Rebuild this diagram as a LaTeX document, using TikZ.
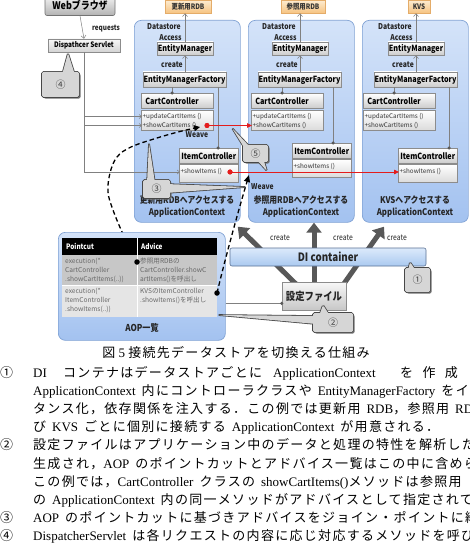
\documentclass[tikz,border=0pt]{standalone}
\usepackage{fontspec}
\setmainfont{Liberation Serif}
\newfontfamily\jpf{Noto Sans CJK JP}
\newfontfamily\jpb[LetterSpace=10]{Noto Sans CJK JP}
\newfontfamily\jpc[FakeStretch=0.85]{Noto Sans CJK JP}
\usetikzlibrary{arrows.meta}
\newcommand\myfs[1]{\fontsize{#1}{#1}\selectfont}
\newcommand\J[1]{{\jpb\fontsize{13}{14}\selectfont #1}}
\newcommand\bodyfont{\fontsize{13}{14}\selectfont\spaceskip 6pt plus 2pt\relax}
\newcommand\callout[3]{%
  \path[fill=black!55,rounded corners=2pt,shift={(1.6,1.6)}] #1;
  \path[calline] #2; \path[calline] #3; \path[calline] #1;
  \path[calfill] #2; \path[calfill] #3; \path[calfill] #1;}
\definecolor{pblueT}{RGB}{212,227,249}
\definecolor{pblueB}{RGB}{163,194,240}
\definecolor{pborder}{RGB}{128,162,212}
\definecolor{dsT}{RGB}{253,236,210}
\definecolor{dsB}{RGB}{246,196,130}
\definecolor{dsborder}{RGB}{228,172,105}
\definecolor{redl}{RGB}{228,28,28}
\definecolor{darkarr}{RGB}{88,88,88}
\definecolor{diT}{RGB}{220,234,251}
\definecolor{diB}{RGB}{170,201,240}
\tikzset{
 panel/.style={draw=pborder, line width=0.7pt, rounded corners=7pt, top color=pblueT, bottom color=pblueB, inner sep=0},
 uml/.style={draw=black!45, line width=0.5pt, top color=white, bottom color=black!20, inner sep=0, font=\jpc\bfseries\myfs{8.5}},
 umlm/.style={draw=black!45, line width=0.5pt, top color=white, bottom color=black!14, inner sep=0},
 meth/.style={anchor=west, inner sep=0.5pt, font=\jpf\myfs{6.3}, text=black!80},
 store/.style={draw=dsborder, line width=0.5pt, top color=dsT, bottom color=dsB, inner sep=0, font=\jpc\bfseries\myfs{7.5}, text=black!80},
 lbl/.style={inner sep=0, font=\jpc\bfseries\myfs{8}, text=black!85},
 gline/.style={draw=black!50, line width=0.5pt},
 garrow/.style={gline, -{Straight Barb[length=3pt,width=5pt]}},
 sarrow/.style={gline, -{Straight Barb[length=2.5pt,width=4pt]}},
 reddot/.style={circle, fill=redl, inner sep=0, minimum size=5pt},
 redarr/.style={draw=redl, line width=0.8pt, -{Triangle[length=5pt,width=4.5pt]}},
 gdot/.style={circle, fill=black!65, inner sep=0, minimum size=3.5pt},
 bdot/.style={circle, fill=black, inner sep=0, minimum size=5.5pt},
 bigarr/.style={draw=darkarr, line width=5pt, -{Triangle[length=10pt,width=15pt]}},
 dashcurve/.style={draw=black, line width=1.3pt, dash pattern=on 4.5pt off 3pt},
 calline/.style={draw=black!72, line width=1.6pt, fill=black!16, rounded corners=1.5pt},
 calfill/.style={fill=black!16, rounded corners=1.5pt},
 calnum/.style={inner sep=0, font=\jpf\myfs{10}, text=black!75},
 tabtxt/.style={anchor=north west, inner sep=0, align=left, font=\jpf\fontsize{6.6}{9}\selectfont, text=black!60},
 body/.style={anchor=base west, inner sep=0, font=\bodyfont},
}
\begin{document}
\begin{tikzpicture}[x=1pt,y=-1pt]
\useasboundingbox (0,0) rectangle (470,545);
\clip (0,0) rectangle (470,545);
\fill[white] (0,0) rectangle (470,545);

% ---------- Web browser and dispatcher
\node[draw=black!55, line width=0.6pt, rounded corners=2pt, top color=black!4, bottom color=black!30, minimum width=70pt, minimum height=20pt, inner sep=0, font=\jpc\bfseries\myfs{10.5}] (web) at (80,5.5) {Webブラウザ};
\node[lbl, font=\jpc\bfseries\myfs{7.5}] (req) at (106,29) {requests};
\node[draw=black!45, line width=0.5pt, top color=black!3, bottom color=black!17, minimum width=72pt, minimum height=13pt, inner sep=0, font=\jpc\bfseries\myfs{7.5}] (disp) at (84,45.5) {Dispathcer Servlet};
\draw[garrow] (web.south) -- (disp.north);

% ---------- three application contexts
\foreach \i/\dx/\ex/\ccx/\icx/\icy/\st/\sw/\bt in {
 1/0/0/141/179/148/更新用RDB/46/更新用RDBへアクセスする,
 2/114/115/251/292/143/参照用RDB/44/参照用RDBへアクセスする,
 3/228/231/363/398/148/KVS/22/KVSへアクセスする}{
 \node[panel, anchor=north west, minimum width=106pt, minimum height=202pt] (pan\i) at (134+\dx,20) {};
 \node[store, minimum width=\sw pt, minimum height=13pt] (st\i) at (188+\ex,6.5) {\st};
 \node[lbl] (dat\i) at (164+\ex,27) {Datastore};
 \node[lbl] (acc\i) at (170.5+\ex,37.5) {Access};
 \node[uml, minimum width=56pt, minimum height=13pt] (em\i) at (185+\ex,48.5) {EntityManager};
 \node[lbl] (cr\i) at (172+\ex,65) {create};
 \node[uml, minimum width=83pt, minimum height=15pt] (emf\i) at (184.5+\ex,79.5) {EntityManagerFactory};
 \draw[garrow] (em\i.south |- emf\i.north) -- (em\i.south);
 \draw[garrow] (em\i.north) -- (em\i.north |- st\i.south);
 \node[uml, anchor=north west, text width=64pt, inner xsep=4pt, minimum height=15pt, align=left] (cc\i) at (\ccx,93) {CartController};
 \node[umlm, anchor=north west, minimum width=72pt, minimum height=20pt] (ccm\i) at (\ccx,110) {};
 \node[meth] (ccu\i) at (\ccx+1,116.5) {+updateCartItems ()};
 \node[meth] (ccs\i) at (\ccx+1,125.5) {+showCartItems ()};
 \path (cc\i.north west) ++(31,0) coordinate (ccj\i);
 \draw[gline] (ccj\i |- emf\i.south) -- (ccj\i);
 \node[gdot] at (ccj\i) {};
 \node[uml, anchor=north west, minimum width=59pt, minimum height=15pt] (ic\i) at (\icx,\icy) {ItemController};
 \node[umlm, anchor=north west, minimum width=59pt, minimum height=18pt] (icm\i) at (\icx,\icy+16) {};
 \node[meth] (ics\i) at (\icx+1,\icy+24) {+showItems ()};
 \coordinate (icj\i) at (218+\ex,\icy);
 \draw[gline] (icj\i |- emf\i.south) -- (icj\i);
 \node[gdot] at (icj\i) {};
 \node[inner sep=0, align=center, font=\jpc\bfseries\fontsize{9.2}{12}\selectfont, text=black!85] (bt\i) at (187+\dx,207) {\bt\\ApplicationContext};
}

% ---------- dispatcher request lines
\draw[gline] (disp.south) -- (disp.south |- ics1.west);
\draw[sarrow] (disp.south |- ics1.west) -- (ics1.west);
\draw[sarrow] (disp.south |- ccu1.west) -- (ccu1.west);
\draw[sarrow] (disp.south |- ccs1.west) -- (ccs1.west);

% ---------- red weave links
\node[reddot] (rd1) at (207,125.5) {};
\node[reddot] (rd2) at (230,172) {};
\draw[redarr] (rd1.center) -- (ccs2.west);
\draw[redarr] (rd2.center) -- (ics3.west);
\node[reddot] at (rd1) {};
\node[reddot] at (rd2) {};
\node[lbl] (wv1) at (197,135) {Weave};

% ---------- dashed curve 1 (behind AOP panel)
\draw[dashcurve, -{Triangle[length=6pt,width=6pt]}] plot[smooth, tension=0.6] coordinates {(137,262) (131,248) (123,234) (113,210) (108,192) (110,173) (117,157) (131,147) (157,138) (180,131.5) (200,127)};

% ---------- AOP list
\node[panel, anchor=north west, minimum width=167pt, minimum height=108pt] (aop) at (58,232) {};
\fill[black] (62,238) rectangle (217,255);
\fill[black!22] (62,255) rectangle (217,285);
\fill[black!10] (62,285) rectangle (217,317);
\draw[white, line width=0.6pt] (137,238) -- (137,317);
\draw[white, line width=0.6pt] (62,285) -- (217,285);
\node[anchor=west, inner sep=0, text=white, font=\jpc\bfseries\myfs{7.5}] (hpc) at (66,246.5) {Pointcut};
\node[anchor=west, inner sep=0, text=white, font=\jpc\bfseries\myfs{7.5}] (had) at (141,246.5) {Advice};
\node[tabtxt] (t11) at (65,258) {execution(*\\CartController\\.showCartItems(..))};
\node[tabtxt] (t12) at (140,258) {参照用RDBの\\CartController.showC\\artItems()を呼出し};
\node[tabtxt] (t21) at (65,288) {execution(*\\ItemController\\.showItems(..))};
\node[tabtxt] (t22) at (140,288) {KVSのItemController\\.showItems()を呼出し};
\node[inner sep=0, font=\jpc\bfseries\myfs{9.5}, text=black!85] (aoplbl) at (142,328) {AOP一覧};
\node[bdot] (pd1) at (137,262) {};
\node[bdot] (pd2) at (217,293) {};

% ---------- dashed curve 2
\coordinate (wv2p) at (249,175);
\draw[dashcurve, -{Triangle[length=7pt,width=6pt]}] (pd2.center) .. controls (226,255) and (240,205) .. (wv2p);
\node[lbl, anchor=west] (wv2) at (251,187) {Weave};

% ---------- create arrows, DI container, config file
\coordinate (a1s) at (297,285);
\coordinate (a2s) at (314,285);
\coordinate (a3s) at (343,285);
\draw[bigarr] (a1s) -- ([xshift=-3pt,yshift=-4pt]pan1.south east);
\draw[bigarr] (a2s) -- (a2s |- pan2.south);
\draw[bigarr] (a3s) -- ([xshift=22pt,yshift=-4pt]pan3.south west);
\node[inner sep=0, font=\jpc\myfs{8}, text=black!85] (cl1) at (280,238) {create};
\node[inner sep=0, font=\jpc\myfs{8}, text=black!85] (cl2) at (343,238) {create};
\node[inner sep=0, font=\jpc\myfs{8}, text=black!85] (cl3) at (397,238) {create};
\node[draw=black!30!pborder, line width=0.6pt, rounded corners=2pt, top color=diT, bottom color=diB, minimum width=196pt, minimum height=18pt, inner sep=0, font=\jpc\bfseries\myfs{11.5}, text=black!85] (di) at (328,257) {DI container};
\node[draw=black!45, line width=0.6pt, top color=black!3, bottom color=black!22, minimum width=64pt, minimum height=28pt, inner sep=0, font=\jpc\bfseries\myfs{11}, text=black!85] (cfg) at (314,296) {設定ファイル};
\path (cfg.south west) ++(0,-7) coordinate (cfgin);
\draw[gline] (aop.east |- cfgin) -- (cfgin);
\node[gdot] at (cfgin) {};

% ---------- callouts
\callout{(42,72) rectangle (79,97)}{(62,75) -- (68,53) -- (75,75) -- cycle}{}
\node[calnum] (c4) at (60.5,84.5) {④};
\callout{(143,180) rectangle (170,198)}{(147,183) -- (149,143) -- (155,183) -- cycle}{(166,184) -- (246,187) -- (166,193) -- cycle}
\node[calnum] (c3) at (156.5,189) {③};
\callout{(243,145) rectangle (268,162)}{(245,149) -- (232,128) -- (251,148) -- cycle}{(255,158) -- (267,171) -- (263,158) -- cycle}
\node[calnum] (c5) at (255.5,153.5) {⑤};
\callout{(405,268) rectangle (430,292)}{(408,271) -- (410,262) -- (416,271) -- cycle}{}
\node[calnum] (c1) at (417.5,280) {①};
\callout{(313,313) rectangle (353,332)}{(319,316) -- (323,305) -- (330,316) -- cycle}{(316,316) -- (218,315) -- (316,324) -- cycle}
\node[calnum] (c2) at (333,322.5) {②};

% ---------- caption and body text
\node[anchor=base, inner sep=0, font=\fontsize{13}{14}\selectfont] (cap) at (236,357) {\J{図}\ 5 \J{接続先データストアを切換える仕組み}};
\node[body] (m1) at (0,377) {\J{①}};
\node[body] (l1a) at (33,377) {DI};
\node[body] (l1b) at (63,377) {\J{コンテナはデータストアごとに}};
\node[body] (l1c) at (273,377) {ApplicationContext};
\node[body] (l1d) at (400,377) {\makebox[80pt][s]{\J{を}\hfill\J{作}\hfill\J{成}\hfill\J{し}}};
\node[body] (l2) at (33,395.2) {ApplicationContext \J{内にコントローラクラスや} EntityManagerFactory \J{をイ}};
\node[body] (l3) at (33,413.4) {\J{タンス化，依存関係を注入する．この例では更新用} RDB\J{，参照用} RDB};
\node[body] (l4) at (33,431.6) {\J{び} KVS \J{ごとに個別に接続する} ApplicationContext \J{が用意される．}};
\node[body] (m2) at (0,449.8) {\J{②}};
\node[body] (l5) at (33,449.8) {\J{設定ファイルはアプリケーション中のデータと処理の特性を解析した}};
\node[body] (l6) at (33,468) {\J{生成され，}AOP \J{のポイントカットとアドバイス一覧はこの中に含めら}};
\node[body] (l7) at (33,486.2) {\J{この例では，}CartController \J{クラスの} showCartItems()\J{メソッドは参照用}};
\node[body] (l8) at (33,504.4) {\J{の} ApplicationContext \J{内の同一メソッドがアドバイスとして指定されて}};
\node[body] (m3) at (0,522.6) {\J{③}};
\node[body] (l9) at (33,522.6) {AOP \J{のポイントカットに基づきアドバイスをジョイン・ポイントに織り}};
\node[body] (m4) at (0,540.8) {\J{④}};
\node[body] (l10) at (33,540.8) {DispatcherServlet \J{は各リクエストの内容に応じ対応するメソッドを呼び}};
\end{tikzpicture}
\end{document}
